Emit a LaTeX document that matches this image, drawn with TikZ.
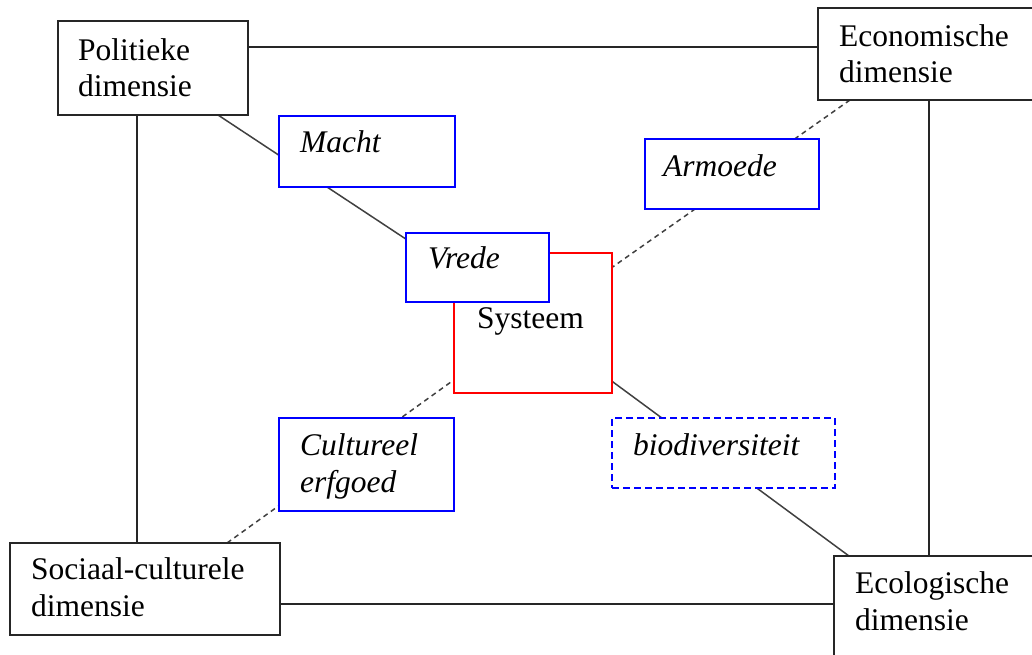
\documentclass[tikz,border=0pt]{standalone}
\usepackage{fontspec}
\setmainfont{Liberation Serif}
\usetikzlibrary{calc,backgrounds}
\begin{document}
\begin{tikzpicture}[x=1pt,y=-1pt,
  box/.style={rectangle,draw=black!85,line width=2pt,fill=white,anchor=north west,inner sep=0pt,outer sep=0pt},
  bluebox/.style={box,draw=blue},
  dbluebox/.style={bluebox,dash pattern=on 7pt off 4pt},
  redbox/.style={box,draw=red},
  txt/.style={anchor=base west,inner sep=0pt,align=left,font=\fontsize{31.5}{36.5}\selectfont},
  itxt/.style={txt,font=\fontsize{31.5}{36.5}\selectfont\itshape},
  frame/.style={line width=1.8pt,draw=black!85},
  link/.style={line width=1.5pt,draw=black!75},
  dlink/.style={link,dash pattern=on 5pt off 4pt}]
\useasboundingbox (0,0) rectangle (1032,655);
\clip (0,0) rectangle (1032,655);
% corner boxes
\node[box,minimum width=190pt,minimum height=94pt] (pol) at (58,21) {};
\node[box,minimum width=232pt,minimum height=92pt] (eco) at (818,8) {};
\node[box,minimum width=270pt,minimum height=92pt] (soc) at (10,543) {};
\node[box,minimum width=222pt,minimum height=112pt] (ecol) at (834,556) {};
% centre
\node[redbox,minimum width=158pt,minimum height=140pt] (sys) at (454,253) {};
\node[bluebox,minimum width=143pt,minimum height=69pt] (vrede) at (406,233) {};
\node[bluebox,minimum width=176pt,minimum height=71pt] (macht) at (279,116) {};
\node[bluebox,minimum width=174pt,minimum height=70pt] (arm) at (645,139) {};
\node[bluebox,minimum width=175pt,minimum height=93pt] (cult) at (279,418) {};
\node[dbluebox,minimum width=223pt,minimum height=70pt] (bio) at (612,418) {};
% texts (multi-line nodes: base = last line)
\node[txt] (polt) at (78,97) {Politieke\\dimensie};
\node[txt] (ecot) at (839,83) {Economische\\dimensie};
\node[txt] (soct) at (31,616) {Sociaal-culturele\\dimensie};
\node[txt] (eclt) at (855,630) {Ecologische\\dimensie};
\node[txt] (syst) at (477,328) {Systeem};
\node[itxt] (vredet) at (428,268) {Vrede};
\node[itxt] (machtt) at (300,153) {Macht};
\node[itxt] (armt) at (663,176) {Armoede};
\node[itxt] (cultt) at (300,492) {Cultureel\\erfgoed};
\node[itxt] (biot) at (633,455) {biodiversiteit};
% connectors behind the boxes
\begin{scope}[on background layer]
\draw[frame] (pol.east |- 0,47) -- (eco.west |- 0,47);
\draw[frame] (pol.south -| 137,0) -- (soc.north -| 137,0);
\draw[frame] (eco.south -| 929,0) -- (ecol.north -| 929,0);
\draw[frame] (soc.east |- 0,604) -- (ecol.west |- 0,604);
\draw[link] ($(pol.south west)+(160,0)$) -- (sys.center);
\draw[dlink] ($(eco.south west)+(32,0)$) -- (sys.center);
\draw[dlink] ($(soc.north west)+(217,0)$) -- (sys.center);
\draw[link] ($(ecol.north west)+(15,0)$) -- (sys.center);
\end{scope}
\end{tikzpicture}
\end{document}
